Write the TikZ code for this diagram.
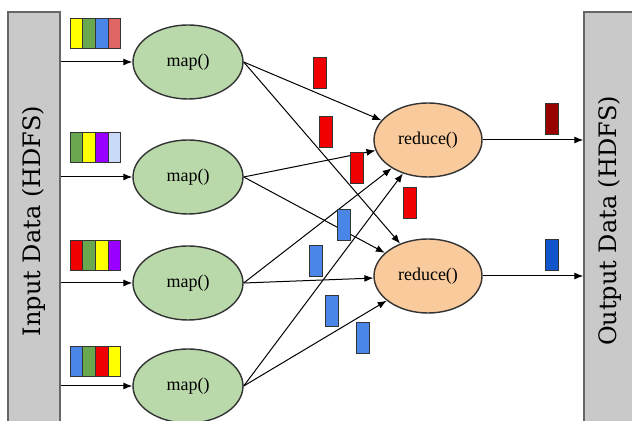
\documentclass[tikz,border=0pt]{standalone}
\usepackage{fontspec}
\setmainfont{DejaVu Serif}
\newfontfamily\taskfont{Liberation Serif}
\usetikzlibrary{shapes.geometric, positioning, arrows.meta}

\definecolor{mapgreen}{HTML}{B9D9AA}
\definecolor{redorange}{HTML}{F9CB9C}
\definecolor{storegray}{HTML}{C9C9C9}
\definecolor{cy}{HTML}{FFFF00}
\definecolor{cg}{HTML}{6AA84F}
\definecolor{cb}{HTML}{4A86E8}
\definecolor{cp}{HTML}{E06666}
\definecolor{cv}{HTML}{9900FF}
\definecolor{cl}{HTML}{C9DAF8}
\definecolor{cr}{HTML}{F00000}
\definecolor{dred}{HTML}{990000}
\definecolor{dblue}{HTML}{1155CC}

\tikzset{
  mapper/.style={ellipse, draw=black!80, line width=0.7pt, fill=mapgreen,
                 minimum width=55pt, minimum height=37pt, inner sep=0pt,
                 font=\taskfont\fontsize{9}{10}\selectfont},
  reducer/.style={mapper, fill=redorange, minimum width=54pt},
  store/.style={draw=black!60, line width=0.7pt, fill=storegray, inner sep=0pt,
                font=\fontsize{12}{14}\selectfont},
  chunk/.style={draw=black!80, line width=0.5pt, minimum width=6.35pt,
                minimum height=15pt, inner sep=0pt},
  packet/.style={chunk, minimum width=6.5pt, minimum height=15.5pt},
  flow/.style={line width=0.5pt, -{Latex[length=4.5pt,width=3.5pt]}}
}

\begin{document}
\begin{tikzpicture}[x=0.5pt, y=-0.5pt]
\clip (0,0) rectangle (632,421);

% HDFS on both sides
\node[store, minimum width=26pt, minimum height=209pt] (in) at (34,221)
  {\rotatebox{90}{Input Data (HDFS)}};
\node[store, minimum width=26pt, minimum height=209pt] (out) at (610,221)
  {\rotatebox{90}{Output Data (HDFS)}};

% map and reduce tasks
\node[mapper] (m1) at (188,62) {map()};
\node[mapper] (m2) at (188,177) {map()};
\node[mapper] (m3) at (188,283) {map()};
\node[mapper] (m4) at (188,386) {map()};
\node[reducer] (r1) at (428,140) {reduce()};
\node[reducer] (r2) at (428,276) {reduce()};

% input splits
\foreach \y/\cols [count=\g] in {34/{cy,cg,cb,cp}, 148/{cg,cy,cv,cl},
                                 256/{cr,cg,cy,cv}, 362/{cb,cg,cr,cy}}
  \foreach \c [count=\i] in \cols
    \node[chunk, fill=\c] (s\g-\i) at (63.6+12.75*\i,\y) {};

\foreach \m in {1,...,4} {
  \draw[flow] (in.east |- m\m) -- (m\m);
  \draw[flow] (m\m.east) -- (r1);
  \draw[flow] (m\m.east) -- (r2);
}
\draw[flow] (r1) -- (out.west |- r1);
\draw[flow] (r2) -- (out.west |- r2);

% intermediate pairs
\foreach \x/\y [count=\i] in {320/73, 326/132, 357/168, 410/203}
  \node[packet, fill=cr] (k\i) at (\x,\y) {};
\foreach \x/\y [count=\i] in {344/225, 316/261, 332/311, 363/338}
  \node[packet, fill=cb] (v\i) at (\x,\y) {};
\node[packet, fill=dred] (o1) at (552,119) {};
\node[packet, fill=dblue] (o2) at (552,255) {};
\end{tikzpicture}
\end{document}
